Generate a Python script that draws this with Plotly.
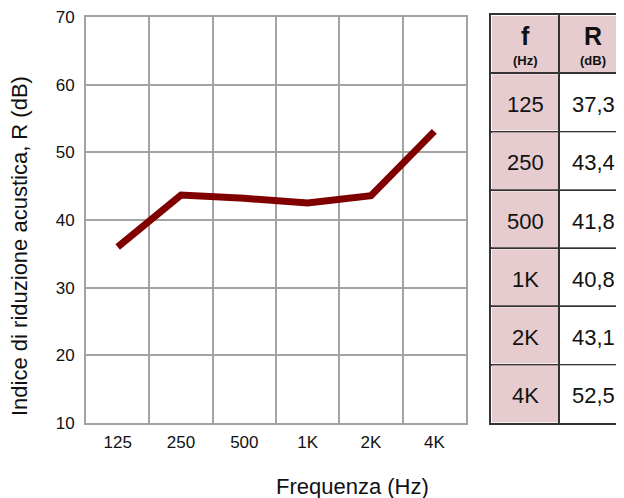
import plotly.graph_objects as go

categories = ["125", "250", "500", "1K", "2K", "4K"]
r_line = [36.0, 43.7, 43.2, 42.5, 43.6, 53.1]
table_freq = ["125", "250", "500", "1K", "2K", "4K"]
table_r = ["37,3", "43,4", "41,8", "40,8", "43,1", "52,5"]
header_main = ["f", "R"]
header_unit = ["(Hz)", "(dB)"]

pink = "#E6CCCF"
grid = "#A3A3A3"
border = "#333333"
font = "Liberation Sans, Arial, sans-serif"

n_rows = len(table_freq)
col_idx = list(range(len(header_main)))
body_rows = list(range(1, n_rows + 1))
body_z = [[0, 1] for _ in table_freq]

fig = go.Figure()
fig.add_trace(go.Scatter(
    x=categories, y=r_line, mode="lines",
    line=dict(color="#800000", width=7),
    showlegend=False, hoverinfo="skip",
))
fig.add_trace(go.Heatmap(
    x=col_idx, y=[0], z=[[0, 0]],
    colorscale=[[0, pink], [1, "white"]], zmin=0, zmax=1,
    showscale=False, xgap=2, ygap=2, hoverinfo="skip",
    xaxis="x2", yaxis="y2",
))
fig.add_trace(go.Heatmap(
    x=col_idx, y=body_rows, z=body_z,
    colorscale=[[0, pink], [1, "white"]], zmin=0, zmax=1,
    showscale=False, xgap=2, ygap=2, hoverinfo="skip",
    xaxis="x2", yaxis="y2",
))

W, H = 616, 490
L, T, B = 78, 7, 75
PW = W - L
PH = H - T - B

annotations = [
    dict(text="Frequenza (Hz)", xref="paper", yref="paper",
         x=(344 - L) / PW, y=(415 - 479) / PH,
         xanchor="center", yanchor="middle", showarrow=False,
         font=dict(size=22)),
    dict(text="Indice di riduzione acustica, R (dB)", xref="paper", yref="paper",
         x=(11 - L) / PW, y=(415 - 238) / PH, textangle=-90,
         xanchor="center", yanchor="middle", showarrow=False,
         font=dict(size=22)),
]
for i, (m, u) in enumerate(zip(header_main, header_unit)):
    annotations.append(dict(
        text="<span style='font-size:25px'><b>%s</b></span><br>"
             "<span style='font-size:13px'><b>%s</b></span>" % (m, u),
        xref="x2", yref="y2", x=i, y=0, showarrow=False,
        xanchor="center", yanchor="middle", yshift=-1,
        font=dict(family=font, size=15, color="#111111"),
    ))
for r, (f, v) in zip(body_rows, zip(table_freq, table_r)):
    for i, t in enumerate((f, v)):
        annotations.append(dict(
            text=t, xref="x2", yref="y2", x=i, y=r, showarrow=False,
            xanchor="center", yanchor="middle", yshift=-2,
            font=dict(family=font, size=22, color="#111111"),
        ))

fig.update_layout(
    width=W, height=H,
    margin=dict(l=L, r=0, t=T, b=B, autoexpand=False),
    paper_bgcolor="white", plot_bgcolor="white",
    font=dict(family=font, color="#111111"),
    xaxis=dict(
        domain=[0, 380 / PW],
        type="category",
        tickson="boundaries",
        showgrid=True, gridcolor=grid, gridwidth=2,
        showline=True, linecolor=grid, linewidth=2, mirror=True,
        ticks="", tickfont=dict(size=17), ticklabelstandoff=3,
        range=[-0.5, 5.5],
    ),
    yaxis=dict(
        domain=[0, 406 / PH],
        range=[10, 70], dtick=10,
        showgrid=True, gridcolor=grid, gridwidth=2,
        showline=True, linecolor=grid, linewidth=2, mirror=True,
        ticks="", tickfont=dict(size=17), ticklabelstandoff=6,
        ticklabeloverflow="allow",
        zeroline=False,
    ),
    xaxis2=dict(
        domain=[(483 - L) / PW, 1.0], anchor="y2",
        type="linear", tick0=0.5, dtick=1,
        showgrid=True, gridcolor=border, gridwidth=2,
        showline=True, linecolor=border, linewidth=2, mirror=True,
        showticklabels=False, ticks="", zeroline=False,
        range=[-0.5, -0.5 + 133 / 68], fixedrange=True,
    ),
    yaxis2=dict(
        domain=[0, 1.0], anchor="x2",
        type="linear", tick0=0.5, dtick=1,
        showgrid=True, gridcolor=border, gridwidth=2,
        showline=True, linecolor=border, linewidth=2, mirror=False,
        showticklabels=False, ticks="", zeroline=False,
        range=[n_rows + 0.5, -0.5], fixedrange=True,
    ),
    annotations=annotations,
)

fig.write_html("out.html")
